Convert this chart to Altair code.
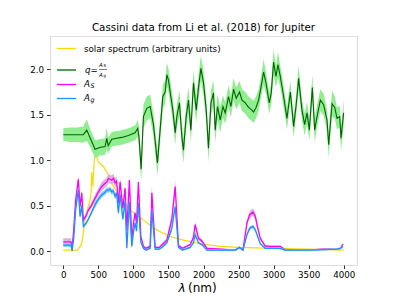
import altair as alt
import pandas as pd

FONT = "DejaVu Sans"

# ---- solar spectrum (arbitrary units)
solar_nm = [0, 200, 240, 262, 310, 340, 372, 395, 405, 419, 443, 467,
            500, 571, 643, 714, 810, 953, 1143, 1334, 1524, 1714, 1953, 2239,
            2500, 3000, 3500, 4000]
solar_val = [0.01, 0.01, 0.05, 0.08, 0.34, 0.45, 0.53, 0.62, 0.87, 0.71, 1.02, 1.05,
             0.98, 0.93, 0.84, 0.71, 0.60, 0.45, 0.34, 0.23, 0.16, 0.12, 0.08, 0.05,
             0.04, 0.03, 0.02, 0.01]

# ---- q = A_S / A_g
q_nm = [0, 100, 200, 286, 334, 380, 453, 520, 596, 620, 640, 691,
        760, 834, 930, 1024, 1062, 1080, 1110, 1143, 1191, 1239, 1286, 1343,
        1381, 1420, 1453, 1477, 1500, 1534, 1563, 1596, 1620, 1657, 1691, 1714,
        1753, 1786, 1820, 1857, 1896, 1929, 1963, 2000, 2039, 2071, 2106, 2143,
        2167, 2200, 2239, 2277, 2310, 2357, 2391, 2429, 2467, 2514, 2549, 2596,
        2643, 2691, 2714, 2750, 2786, 2820, 2857, 2891, 2939, 2967, 3000, 3034,
        3062, 3096, 3143, 3191, 3239, 3286, 3324, 3357, 3405, 3443, 3477, 3510,
        3553, 3586, 3620, 3667, 3714, 3762, 3786, 3834, 3872, 3905, 3943, 3962,
        4000]
q_val = [1.28, 1.28, 1.28, 1.28, 1.33, 1.25, 1.12, 1.14, 1.15, 1.24, 1.16, 1.23,
         1.24, 1.25, 1.27, 1.30, 1.35, 1.25, 0.90, 1.48, 1.57, 1.59, 1.39, 0.97,
         1.33, 1.70, 1.75, 1.94, 1.88, 1.70, 1.55, 1.30, 1.48, 1.63, 1.26, 1.11,
         1.48, 1.66, 1.33, 1.85, 1.55, 1.80, 2.01, 1.85, 1.55, 1.13, 1.63, 1.74,
         1.33, 1.59, 1.44, 1.59, 1.52, 1.70, 1.59, 1.78, 1.68, 1.75, 1.66, 1.63,
         1.58, 1.55, 1.53, 1.58, 1.66, 1.80, 1.97, 1.85, 1.63, 1.74, 2.08, 1.92,
         2.05, 1.92, 1.70, 1.46, 1.75, 1.37, 1.62, 1.90, 1.55, 1.39, 1.52, 1.33,
         1.80, 1.33, 1.48, 1.66, 1.61, 1.44, 1.17, 1.62, 1.58, 1.46, 1.48, 1.24,
         1.52]
q_err = [0.07, 0.08, 0.08, 0.09, 0.12, 0.10, 0.10, 0.09, 0.09, 0.12, 0.09, 0.08,
         0.08, 0.08, 0.08, 0.08, 0.09, 0.12, 0.14, 0.13, 0.13, 0.13, 0.13, 0.14,
         0.14, 0.13, 0.13, 0.13, 0.13, 0.13, 0.13, 0.13, 0.13, 0.14, 0.14, 0.14,
         0.14, 0.14, 0.14, 0.14, 0.14, 0.14, 0.14, 0.14, 0.14, 0.15, 0.14, 0.14,
         0.14, 0.14, 0.14, 0.12, 0.12, 0.12, 0.12, 0.12, 0.12, 0.12, 0.12, 0.12,
         0.12, 0.12, 0.12, 0.12, 0.12, 0.12, 0.14, 0.12, 0.12, 0.12, 0.14, 0.12,
         0.14, 0.12, 0.12, 0.12, 0.12, 0.12, 0.12, 0.14, 0.12, 0.12, 0.12, 0.12,
         0.14, 0.14, 0.12, 0.12, 0.12, 0.12, 0.14, 0.14, 0.12, 0.12, 0.12, 0.14,
         0.14]

# ---- A_S (spherical albedo) and A_g (geometric albedo)
a_nm = [0, 110, 125, 150, 175, 214, 239, 263, 286, 320, 357, 400,
        453, 500, 549, 590, 620, 645, 667, 691, 715, 739, 760, 786,
        810, 849, 881, 906, 943, 977, 1000, 1024, 1045, 1071, 1106, 1143,
        1180, 1239, 1263, 1310, 1370, 1424, 1477, 1548, 1596, 1643, 1700, 1810,
        1857, 1881, 1929, 1977, 2049, 2239, 2453, 2514, 2563, 2620, 2660, 2706,
        2740, 2763, 2810, 2881, 2953, 3096, 3167, 3500, 3700, 3900, 3953, 3991]
as_val = [0.10, 0.10, 0.03, 0.25, 0.55, 0.79, 0.49, 0.64, 0.34, 0.38, 0.45, 0.50,
          0.58, 0.65, 0.71, 0.74, 0.76, 0.80, 0.79, 0.78, 0.80, 0.75, 0.77, 0.53,
          0.76, 0.47, 0.69, 0.23, 0.78, 0.12, 0.30, 0.42, 0.30, 0.76, 0.16, 0.05,
          0.03, 0.05, 0.64, 0.04, 0.04, 0.08, 0.12, 0.35, 0.71, 0.06, 0.03, 0.07,
          0.15, 0.29, 0.14, 0.11, 0.03, 0.02, 0.01, 0.04, 0.01, 0.31, 0.40, 0.43,
          0.38, 0.29, 0.14, 0.055, 0.05, 0.05, 0.01, 0.01, 0.02, 0.02, 0.03, 0.077]
as_err = [0.04, 0.04, 0.02, 0.03, 0.04, 0.05, 0.04, 0.04, 0.03, 0.03, 0.03, 0.03,
          0.04, 0.04, 0.05, 0.05, 0.05, 0.05, 0.05, 0.05, 0.05, 0.05, 0.05, 0.04,
          0.05, 0.04, 0.05, 0.03, 0.05, 0.02, 0.03, 0.03, 0.03, 0.05, 0.02, 0.02,
          0.01, 0.02, 0.08, 0.01, 0.01, 0.02, 0.02, 0.04, 0.07, 0.02, 0.01, 0.01,
          0.02, 0.03, 0.02, 0.02, 0.01, 0.01, 0.01, 0.01, 0.01, 0.03, 0.04, 0.04,
          0.04, 0.03, 0.02, 0.01, 0.01, 0.01, 0.01, 0.01, 0.01, 0.01, 0.01, 0.01]
ag_val = [0.065, 0.065, 0.00, 0.15, 0.45, 0.67, 0.38, 0.50, 0.27, 0.30, 0.35, 0.42,
          0.51, 0.57, 0.62, 0.64, 0.67, 0.67, 0.68, 0.65, 0.66, 0.60, 0.64, 0.42,
          0.62, 0.35, 0.55, 0.03, 0.54, 0.05, 0.20, 0.31, 0.22, 0.53, 0.10, 0.03,
          0.01, 0.03, 0.45, 0.02, 0.02, 0.05, 0.09, 0.25, 0.49, 0.04, 0.01, 0.04,
          0.09, 0.18, 0.09, 0.07, 0.01, 0.01, 0.01, 0.04, 0.01, 0.18, 0.25, 0.27,
          0.23, 0.18, 0.08, 0.03, 0.03, 0.03, 0.01, 0.01, 0.015, 0.02, 0.03, 0.05]
ag_err = [0.02, 0.02, 0.02, 0.02, 0.03, 0.03, 0.03, 0.03, 0.02, 0.02, 0.02, 0.02,
          0.03, 0.03, 0.03, 0.03, 0.03, 0.03, 0.03, 0.03, 0.03, 0.03, 0.03, 0.03,
          0.03, 0.03, 0.03, 0.02, 0.03, 0.02, 0.02, 0.02, 0.02, 0.03, 0.02, 0.01,
          0.01, 0.01, 0.04, 0.01, 0.01, 0.01, 0.01, 0.03, 0.04, 0.01, 0.01, 0.01,
          0.01, 0.02, 0.01, 0.01, 0.01, 0.01, 0.01, 0.01, 0.01, 0.02, 0.02, 0.02,
          0.02, 0.02, 0.01, 0.01, 0.01, 0.01, 0.01, 0.01, 0.01, 0.01, 0.01, 0.01]

x_ticks = [0, 500, 1000, 1500, 2000, 2500, 3000, 3500, 4000]
y_ticks = [0.0, 0.5, 1.0, 1.5, 2.0]

title_text = "Cassini data from Li et al. (2018) for Jupiter"
solar_label = "solar spectrum (arbitrary units)"

# ---- tables
solar_df = pd.DataFrame({"nm": solar_nm, "v": solar_val})
q_df = pd.DataFrame({"nm": q_nm, "v": q_val, "e": q_err})
q_df["lo"] = q_df["v"] - q_df["e"]
q_df["hi"] = q_df["v"] + q_df["e"]
a_df = pd.DataFrame({"nm": a_nm, "s": as_val, "se": as_err, "g": ag_val, "ge": ag_err})
a_df["slo"] = a_df["s"] - a_df["se"]
a_df["shi"] = a_df["s"] + a_df["se"]
a_df["glo"] = a_df["g"] - a_df["ge"]
a_df["ghi"] = a_df["g"] + a_df["ge"]

W, H = 307, 229
xs = alt.Scale(domain=[-190, 4190], nice=False, zero=False)
ys = alt.Scale(domain=[-0.154, 2.366], nice=False, zero=False)
x_axis = alt.Axis(values=x_ticks, format="d", title=None, grid=False, domain=False,
                  labelFont=FONT, labelFontSize=8.7, labelColor="black",
                  tickColor="black", tickSize=3.5, tickWidth=0.8, labelPadding=2,
                  labelFlush=False, labelOverlap=False)
y_axis = alt.Axis(values=y_ticks, format=".1f", title=None, grid=False, domain=False,
                  labelFont=FONT, labelFontSize=8.7, labelColor="black",
                  tickColor="black", tickSize=3.5, tickWidth=0.8, labelPadding=3,
                  labelFlush=False, labelOverlap=False)

X = alt.X("nm:Q", scale=xs, axis=x_axis)


def line(df, field, color, width=1.3):
    return alt.Chart(df).mark_line(color=color, strokeWidth=width).encode(
        x=X, y=alt.Y(f"{field}:Q", scale=ys, axis=y_axis))


def band(df, lo, hi, color, opacity=1.0):
    return alt.Chart(df).mark_area(color=color, opacity=opacity).encode(
        x=X, y=alt.Y(f"{lo}:Q", scale=ys, axis=y_axis), y2=f"{hi}:Q")


dummy = pd.DataFrame({"d": [0]})


def txt(s, x, y, size=8.7, style="normal", align="left"):
    return alt.Chart(dummy).mark_text(text=s, font=FONT, fontSize=size, fontStyle=style,
                                      align=align, baseline="middle", color="black").encode(
        x=alt.value(x), y=alt.value(y))


def leg_line(color, y):
    return alt.Chart(dummy).mark_rule(color=color, strokeWidth=1.3).encode(
        x=alt.value(7), x2=alt.value(26), y=alt.value(y))


GOLD = "#FFD700"
DGREEN = "#006400"
LGREEN = "#90EE90"
MAG = "#FF00FF"
MAGB = "#D8B4DC"
BLUE = "#1E90FF"
BLUEB = "#8CCFF5"

layers = [
    line(solar_df, "v", GOLD, 1.2),
    band(q_df, "lo", "hi", LGREEN),
    line(q_df, "v", DGREEN, 1.1),
    band(a_df, "slo", "shi", MAGB),
    line(a_df, "s", MAG, 1.3),
    band(a_df, "glo", "ghi", BLUEB),
    line(a_df, "g", BLUE, 1.3),
    # legend
    leg_line(GOLD, 12.5), txt(solar_label, 34, 12.5),
    leg_line(DGREEN, 34), txt("q", 35, 33.5, style="italic"), txt("=", 40.5, 33.5),
    txt("A", 49, 29, size=5.5, style="italic"), txt("S", 53.5, 30.3, size=4, style="italic"),
    alt.Chart(dummy).mark_rule(color="black", strokeWidth=0.5).encode(
        x=alt.value(49), x2=alt.value(57), y=alt.value(33.5)),
    txt("A", 49, 38.5, size=5.5, style="italic"), txt("g", 53.5, 39.8, size=4, style="italic"),
    leg_line(MAG, 48.5), txt("A", 34, 48, style="italic"), txt("S", 40.5, 50, size=6.3, style="italic"),
    leg_line(BLUE, 62.5), txt("A", 34, 62, style="italic"), txt("g", 40.5, 64, size=6.3, style="italic"),
    # title and x label
    txt(title_text, W / 2, -8.5, size=10.3, align="center"),
    txt("λ", 132, 252, size=12, style="italic", align="center"),
    txt("(nm)", 138, 252, size=12),
]

chart = alt.layer(*layers).properties(
    width=W, height=H,
    padding={"left": 42, "top": 28, "right": 30, "bottom": 32},
    autosize=alt.AutoSizeParams(type="none"),
).configure_view(stroke="black", strokeWidth=0.8).configure(background="white")

chart.save("out.html", embed_options={"renderer": "svg", "actions": False})
